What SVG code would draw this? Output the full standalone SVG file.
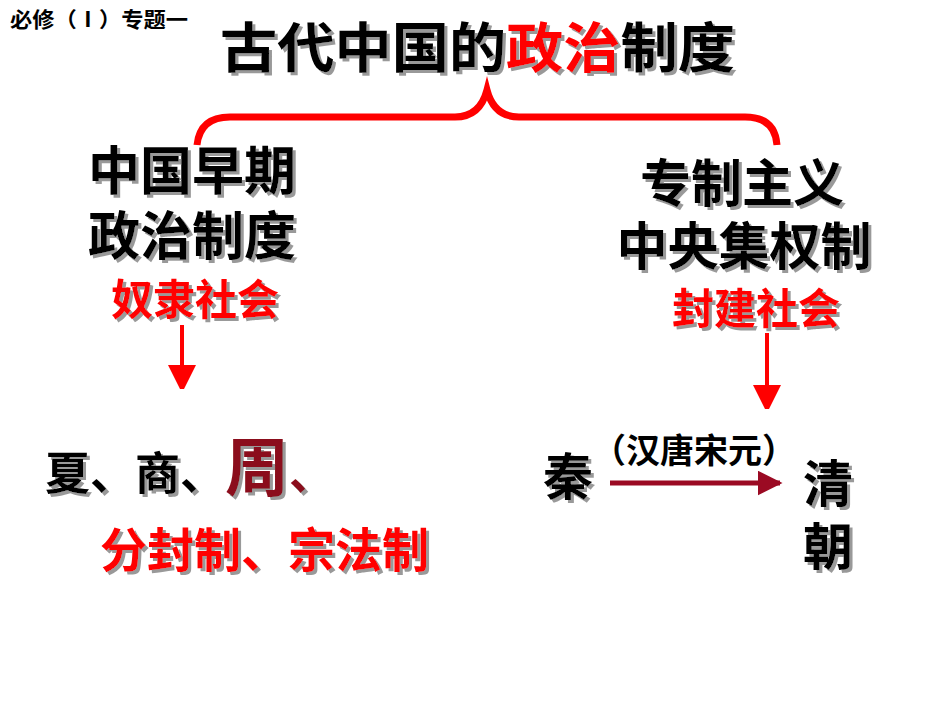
<svg xmlns="http://www.w3.org/2000/svg" width="950" height="713" viewBox="0 0 950 713">
<defs>
<filter id="sh" x="-10%" y="-10%" width="130%" height="130%"><feDropShadow dx="3" dy="3" stdDeviation="0.5" flood-color="#999"/></filter>
<marker id="ar" markerWidth="6" markerHeight="7" refX="5" refY="3.5" orient="auto" markerUnits="strokeWidth"><path d="M0,0 L7,3.5 L0,7 z" fill="red"/></marker>
<marker id="ad" markerWidth="5" markerHeight="5" refX="4.5" refY="2.5" orient="auto" markerUnits="strokeWidth"><path d="M0,0 L5,2.5 L0,5 z" fill="#9b0a23"/></marker>
</defs>
<style>
text{font-family:"Liberation Sans","Noto Sans CJK SC",sans-serif;font-weight:bold}
.b{fill:#000;filter:url(#sh)}
.r{fill:#f00;filter:url(#sh)}
</style>
<rect width="950" height="713" fill="#fff"/>
<text x="10" y="27" font-size="21" textLength="178" lengthAdjust="spacingAndGlyphs">必修（Ⅰ）专题一</text>
<g id="title"><text x="220" y="68" font-size="54" class="b" textLength="515" lengthAdjust="spacingAndGlyphs">古代中国的<tspan fill="#f00">政治</tspan>制度</text></g>
<g id="connectors" fill="none">
<path d="M197,145 Q200,117 230,117 L455,117 Q480,117 487,90 Q494,117 519,117 L745,117 Q775,117 777,145" stroke="red" stroke-width="7"/>
<line x1="182" y1="325" x2="182" y2="385" stroke="red" stroke-width="4" marker-end="url(#ar)"/>
<line x1="767" y1="333" x2="767" y2="405" stroke="red" stroke-width="4" marker-end="url(#ar)"/>
<line x1="610" y1="483" x2="780" y2="483" stroke="#9b0a23" stroke-width="5" marker-end="url(#ad)"/>
</g>
<g id="left" text-anchor="middle">
<text x="192" y="190" font-size="52" class="b">中国早期</text>
<text x="192" y="255" font-size="52" class="b">政治制度</text>
<text x="195" y="315" font-size="42" class="r">奴隶社会</text>
</g>
<g id="right" text-anchor="middle">
<text x="742" y="202" font-size="51" class="b">专制主义</text>
<text x="744" y="265" font-size="51" class="b">中央集权制</text>
<text x="756" y="324" font-size="42" class="r">封建社会</text>
</g>
<g id="zhou">
<text x="45" y="490" font-size="45" class="b">夏、商、<tspan font-size="64" fill="#8b0a1a">周</tspan><tspan fill="#8b0a1a">、</tspan></text>
<text x="100" y="567" font-size="47" class="r">分封制、宗法制</text>
</g>
<g id="qin">
<text x="543" y="495" font-size="50" class="b">秦</text>
<text x="592" y="463" font-size="34" fill="#000">（汉唐宋元）</text>
</g>
<g id="qing">
<text x="803" y="502" font-size="50" class="b">清</text>
<text x="803" y="565" font-size="50" class="b">朝</text>
</g>
</svg>
